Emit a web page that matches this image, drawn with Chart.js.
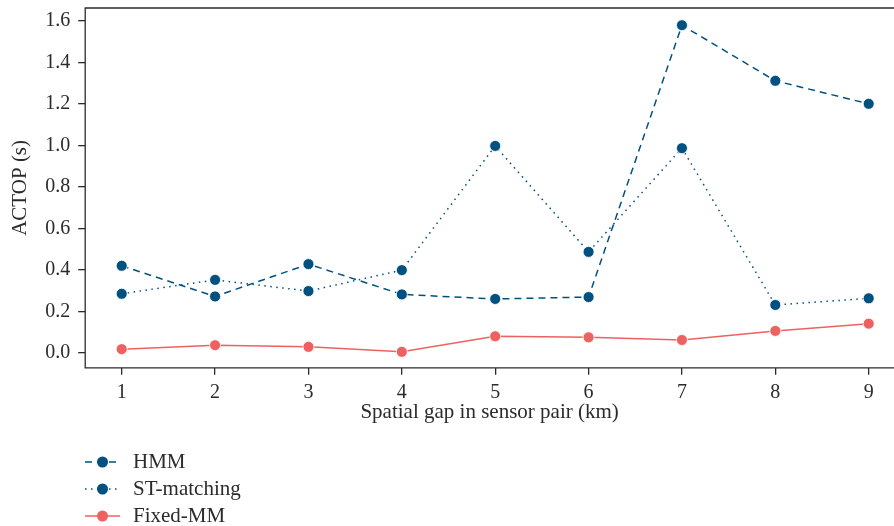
<!DOCTYPE html>
<html>
<head>
<meta charset="utf-8">
<script src="https://cdn.jsdelivr.net/npm/chart.js@4.4.1/dist/chart.umd.min.js"></script>
<style>
  html, body { margin: 0; padding: 0; background: #fff; }
  #wrap { width: 894px; height: 526px; overflow: hidden; }
</style>
</head>
<body>
<div id="wrap"><canvas id="chart" width="894" height="526"></canvas></div>
<script>
// spatial gap between sensors (km)
const gaps = [1, 2, 3, 4, 5, 6, 7, 8, 9];
const yTicks = [0.0, 0.2, 0.4, 0.6, 0.8, 1.0, 1.2, 1.4, 1.6];

// ACTOP per method (s)
const hmm        = [0.42, 0.272, 0.428, 0.282, 0.26, 0.269, 1.58, 1.312, 1.201];
const stMatching = [0.285, 0.352, 0.298, 0.399, 0.998, 0.487, 0.987, 0.231, 0.263];
const fixedMM    = [0.018, 0.037, 0.029, 0.005, 0.08, 0.075, 0.062, 0.106, 0.141];

const BLUE = "#00517f";
const RED = "#ee6161";
const INK = "#2b2b2b";
const FONT = "'Liberation Serif', 'DejaVu Serif', serif";

function series(label, values, color, dash) {
    return {
        label,
        data: values.map((v, i) => ({ x: gaps[i], y: v })),
        borderColor: color,
        backgroundColor: color,
        borderWidth: 1.5,
        borderDash: dash,
        pointRadius: 5.5,
        pointBorderColor: "#fff",
        pointBorderWidth: 0.8,
        pointBackgroundColor: color,
        tension: 0
    };
}

// no extra room for the end labels, the plot runs to the edges
function noEdgePadding(scale) {
    scale.paddingTop = 0;
    scale.paddingBottom = 0;
    scale.paddingLeft = 0;
    scale.paddingRight = 0;
}

// open frame (top, left, bottom) plus the bottom legend
const framePlugin = {
    id: "frame",
    afterDraw(chart) {
        const { ctx, chartArea: a } = chart;
        ctx.save();
        ctx.strokeStyle = INK;
        ctx.lineWidth = 1.3;
        ctx.beginPath();
        ctx.moveTo(a.right + 2, a.top);
        ctx.lineTo(a.left, a.top);
        ctx.lineTo(a.left, a.bottom);
        ctx.lineTo(a.right + 2, a.bottom);
        ctx.stroke();

        const x0 = 85, x1 = 120, tx = 133;
        let y = 462;
        chart.data.datasets.forEach(ds => {
            ctx.strokeStyle = ds.borderColor;
            ctx.lineWidth = ds.borderWidth;
            ctx.setLineDash(ds.borderDash || []);
            ctx.beginPath();
            ctx.moveTo(x0, y);
            ctx.lineTo(x1, y);
            ctx.stroke();
            ctx.setLineDash([]);
            ctx.fillStyle = ds.pointBackgroundColor;
            ctx.beginPath();
            ctx.arc((x0 + x1) / 2, y, ds.pointRadius, 0, Math.PI * 2);
            ctx.fill();
            ctx.fillStyle = INK;
            ctx.font = "21px " + FONT;
            ctx.textBaseline = "middle";
            ctx.fillText(ds.label, tx, y);
            y += 27;
        });
        ctx.restore();
    }
};

new Chart(document.getElementById("chart"), {
    type: "line",
    data: {
        datasets: [
            series("HMM", hmm, BLUE, [7, 5]),
            series("ST-matching", stMatching, BLUE, [1.5, 4.5]),
            series("Fixed-MM", fixedMM, RED, [])
        ]
    },
    options: {
        responsive: false,
        animation: false,
        layout: { autoPadding: false, padding: { left: 4, right: 0, top: 8, bottom: 101 } },
        plugins: { legend: { display: false }, tooltip: { enabled: false } },
        scales: {
            x: {
                type: "linear",
                min: 0.609,
                max: 9.271,
                afterBuildTicks: axis => { axis.ticks = gaps.map(v => ({ value: v })); },
                afterFit: noEdgePadding,
                grid: { drawOnChartArea: false, drawTicks: true, tickLength: 7, color: INK, lineWidth: 1.3 },
                border: { display: false },
                ticks: { color: INK, font: { family: FONT, size: 20 }, padding: 6, maxRotation: 0 },
                title: { display: true, text: "Spatial gap in sensor pair (km)", color: INK, font: { family: FONT, size: 21 }, padding: { top: -11, bottom: 0 } }
            },
            y: {
                min: -0.072,
                max: 1.663,
                afterBuildTicks: axis => { axis.ticks = yTicks.map(v => ({ value: v })); },
                afterFit: noEdgePadding,
                grid: { drawOnChartArea: false, drawTicks: true, tickLength: 7, color: INK, lineWidth: 1.3 },
                border: { display: false },
                ticks: { color: INK, font: { family: FONT, size: 20 }, padding: 8, callback: v => v.toFixed(1) },
                title: { display: true, text: "ACTOP (s)", color: INK, font: { family: FONT, size: 21 }, padding: { bottom: 4 } }
            }
        }
    },
    plugins: [framePlugin]
});
</script>
</body>
</html>
